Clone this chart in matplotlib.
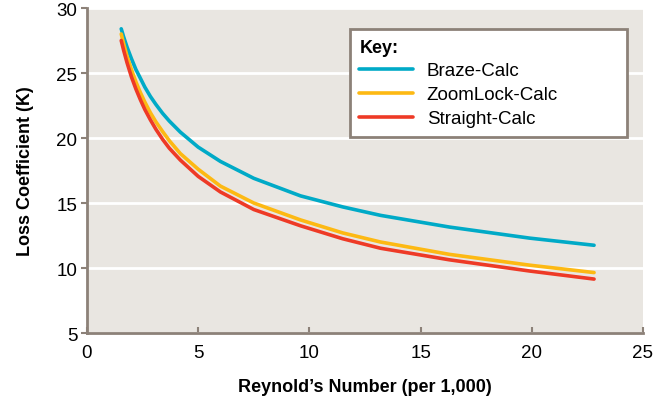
import matplotlib
matplotlib.use("Agg")
import matplotlib.pyplot as plt

reynolds = [1.54, 1.65, 1.8, 2.0, 2.2, 2.4, 2.6, 2.85, 3.1, 3.4, 3.7, 4.2, 5.0, 6.0, 7.5, 9.6, 11.5, 13.2, 16.3, 19.9, 22.8]
braze = [28.4, 27.77, 27.0, 26.1, 25.27, 24.6, 23.92, 23.2, 22.58, 21.9, 21.31, 20.45, 19.3, 18.2, 16.9, 15.55, 14.7, 14.05, 13.15, 12.3, 11.75]
zoomlock = [28.0, 27.25, 26.3, 25.25, 24.32, 23.5, 22.77, 21.95, 21.24, 20.5, 19.8, 18.8, 17.6, 16.3, 15.0, 13.7, 12.7, 12.0, 11.05, 10.22, 9.65]
straight = [27.5, 26.74, 25.8, 24.7, 23.77, 22.95, 22.2, 21.4, 20.67, 19.9, 19.22, 18.3, 17.05, 15.85, 14.5, 13.25, 12.25, 11.52, 10.63, 9.77, 9.15]
series_names = ["Braze-Calc", "ZoomLock-Calc", "Straight-Calc"]
xticks = [0, 5, 10, 15, 20, 25]
yticks = [5, 10, 15, 20, 25, 30]

plt.rcParams['font.family'] = ['Liberation Sans', 'DejaVu Sans']
fig = plt.figure(figsize=(6.67, 4.06), dpi=100)
ax = fig.add_axes([0.1304, 0.1773, 0.8336, 0.8005])
ax.set_facecolor('#e9e6e1')
spine_c = '#8c8178'

colors = ['#00aac7', '#fdb913', '#ee3a26']
for ys, name, c in zip([braze, zoomlock, straight], series_names, colors):
    ax.plot(reynolds, ys, color=c, lw=2.6, label=name, solid_capstyle='round',
            solid_joinstyle='round')

ax.set_xlim(0, 25)
ax.set_ylim(5, 30)
ax.set_xticks(xticks)
ax.set_yticks(yticks)
ax.yaxis.grid(True, color='white', lw=2)
ax.set_axisbelow(True)
for s in ['top', 'right']:
    ax.spines[s].set_visible(False)
for s in ['left', 'bottom']:
    ax.spines[s].set_color(spine_c)
    ax.spines[s].set_linewidth(2)
ax.tick_params(axis='y', direction='out', length=4, width=1.5, color=spine_c, labelsize=13.5, pad=3)
ax.tick_params(axis='x', direction='in', length=4, width=1.5, color=spine_c, labelsize=13.5, pad=8)

ax.set_xlabel("Reynold\u2019s Number (per 1,000)", fontsize=13, fontweight='bold', labelpad=12)
ax.set_ylabel("Loss Coefficient (K)", fontsize=13, fontweight='bold', labelpad=16)

leg = ax.legend(title="Key:", loc='upper left', bbox_to_anchor=(0.473, 0.609, 0.498, 0.326),
                mode='expand', fontsize=13.5, title_fontproperties={'weight': 'bold', 'size': 13},
                frameon=True, fancybox=False, handlelength=2.85, handletextpad=0.75,
                borderpad=0.5, labelspacing=0.36, borderaxespad=0)
leg._legend_box.align = 'left'
frame = leg.get_frame()
frame.set_edgecolor(spine_c)
frame.set_linewidth(2)
frame.set_facecolor('white')
frame.set_alpha(1)

fig.savefig('out.png', dpi=100)
